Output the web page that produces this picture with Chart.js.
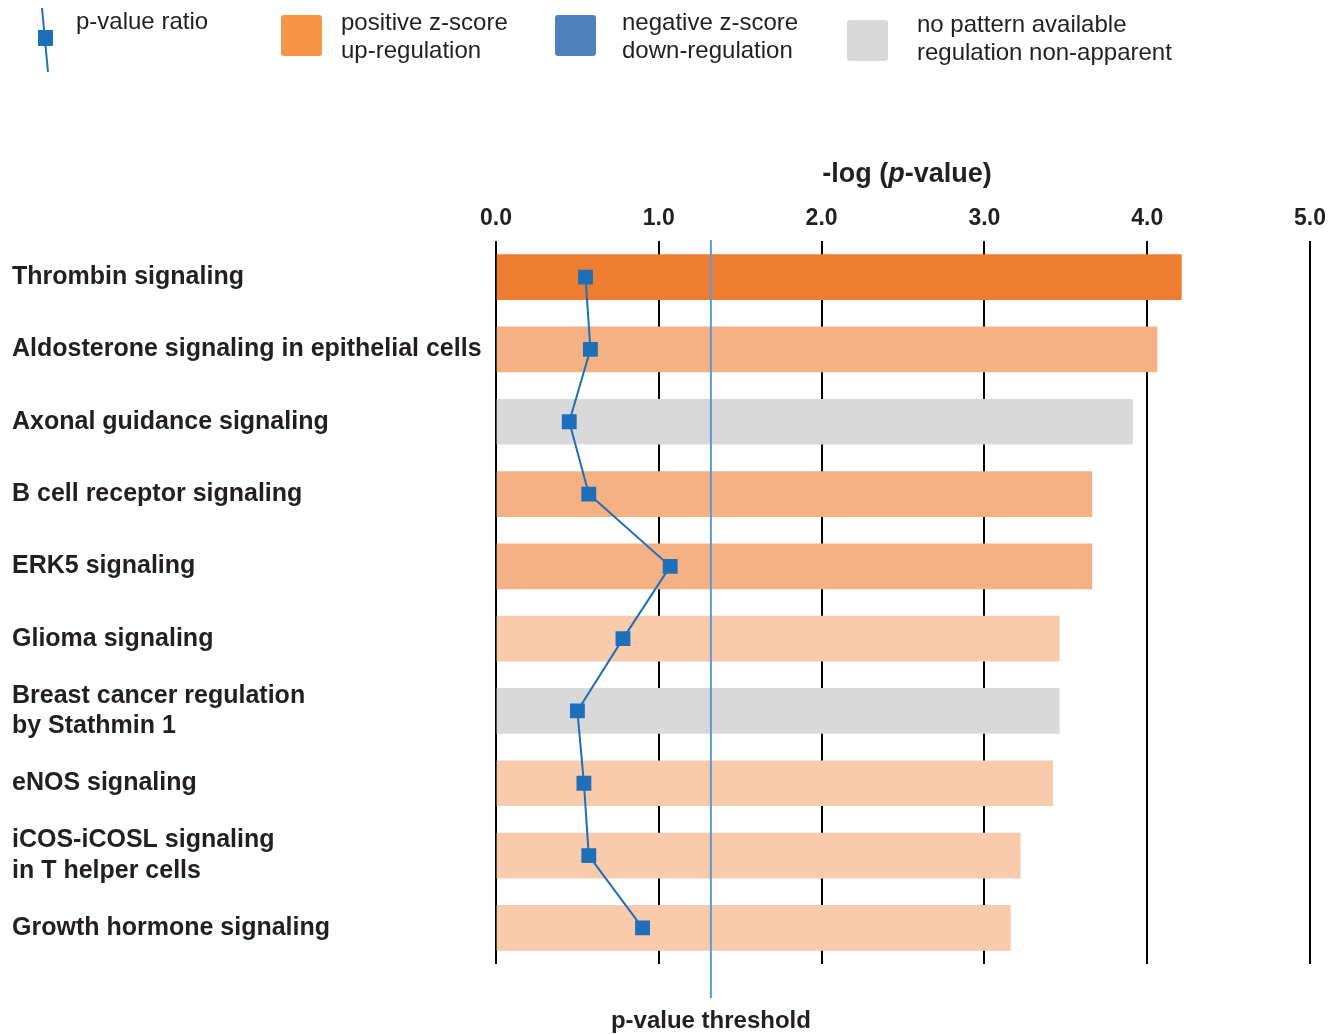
<!DOCTYPE html>
<html>
<head>
<meta charset="utf-8">
<script src="https://cdn.jsdelivr.net/npm/chart.js@4.4.0/dist/chart.umd.min.js"></script>
<style>
  body { margin: 0; background: #fff; font-family: 'Liberation Sans', Arial, sans-serif; color: #231F20; }
  #wrap { position: relative; width: 1342px; height: 1034px; }
  #chart { position: absolute; left: 0; top: 0; }
  .lg { position: absolute; font-size: 24px; line-height: 28px; white-space: nowrap; }
  .sw { position: absolute; width: 41px; height: 41px; border-radius: 3px; }
</style>
</head>
<body>
<div id="wrap">
  <canvas id="chart" width="1342" height="1034"></canvas>

  <!-- legend -->
  <svg style="position:absolute;left:0;top:0" width="70" height="80">
    <line x1="42" y1="8" x2="48" y2="72" stroke="#1E6FBA" stroke-width="2"/>
    <rect x="38" y="30" width="15" height="16" fill="#1E6FBA"/>
  </svg>
  <div class="lg" style="left:76px;top:7px">p-value ratio</div>

  <div class="sw" style="left:281px;top:15px;background:#F79646"></div>
  <div class="lg" style="left:341px;top:8px">positive z-score<br>up-regulation</div>

  <div class="sw" style="left:555px;top:15px;background:#4F81BD"></div>
  <div class="lg" style="left:622px;top:8px">negative z-score<br>down-regulation</div>

  <div class="sw" style="left:847px;top:20px;background:#D9D9D9"></div>
  <div class="lg" style="left:917px;top:10px">no pattern available<br>regulation non-apparent</div>
</div>

<script>
// Data
const pathways = [
    'Thrombin signaling',
    'Aldosterone signaling in epithelial cells',
    'Axonal guidance signaling',
    'B cell receptor signaling',
    'ERK5 signaling',
    'Glioma signaling',
    ['Breast cancer regulation', 'by Stathmin 1'],
    'eNOS signaling',
    ['iCOS-iCOSL signaling', 'in T helper cells'],
    'Growth hormone signaling'
];
const negLogP = [4.21, 4.06, 3.91, 3.66, 3.66, 3.46, 3.46, 3.42, 3.22, 3.16];
const pValueRatio = [0.55, 0.58, 0.45, 0.57, 1.07, 0.78, 0.50, 0.54, 0.57, 0.90];
// z-score class of each pathway: strong / up / weak / none
const zClass = ['strong', 'up', 'none', 'up', 'up', 'weak', 'none', 'weak', 'weak', 'weak'];
const xTicks = [0, 1, 2, 3, 4, 5];
const threshold = 1.32;

const zColors = { strong: '#ED7D31', up: '#F4B183', weak: '#F8CBAD', none: '#D9D9D9' };
const FONT = "'Liberation Sans', Arial, sans-serif";
const INK = '#231F20';

// title, threshold line and its label
const extras = {
    id: 'extras',
    afterDatasetsDraw(chart){
        const ctx = chart.ctx;
        const x = chart.scales.x;
        const area = chart.chartArea;
        const tx = x.getPixelForValue(threshold);

        ctx.save();
        ctx.strokeStyle = '#5B9BD5';
        ctx.lineWidth = 2;
        ctx.beginPath();
        ctx.moveTo(tx, area.top - 1);
        ctx.lineTo(tx, 998);
        ctx.stroke();

        ctx.fillStyle = INK;
        ctx.textBaseline = 'middle';
        ctx.textAlign = 'center';
        ctx.font = 'bold 24px ' + FONT;
        ctx.fillText('p-value threshold', tx, 1021);

        // -log (p-value) with italic p
        const parts = [
            ['-log (', 'bold 27px ' + FONT],
            ['p', 'italic bold 27px ' + FONT],
            ['-value)', 'bold 27px ' + FONT]
        ];
        let total = 0;
        parts.forEach(p => { ctx.font = p[1]; total += ctx.measureText(p[0]).width; });
        let cx = (area.left + area.right) / 2 + 4 - total / 2;
        ctx.textAlign = 'left';
        parts.forEach(p => {
            ctx.font = p[1];
            ctx.fillText(p[0], cx, 175);
            cx += ctx.measureText(p[0]).width;
        });
        ctx.restore();
    }
};

new Chart(document.getElementById('chart'), {
    type: 'bar',
    data: {
        labels: pathways,
        datasets: [
            {
                type: 'line',
                label: 'p-value ratio',
                data: pValueRatio,
                borderColor: '#1E6FBA',
                borderWidth: 2,
                backgroundColor: '#1E6FBA',
                pointStyle: 'rect',
                pointRadius: 10.5,
                pointBorderWidth: 0,
                tension: 0,
                order: 0
            },
            {
                label: '-log (p-value)',
                data: negLogP,
                backgroundColor: zClass.map(c => zColors[c]),
                barThickness: 45,
                order: 1
            }
        ]
    },
    options: {
        indexAxis: 'y',
        responsive: false,
        animation: false,
        devicePixelRatio: 1,
        layout: { padding: { left: 12, right: 32, top: 0, bottom: 70 } },
        plugins: { legend: { display: false }, tooltip: { enabled: false } },
        scales: {
            x: {
                position: 'top',
                min: 0,
                max: 5,
                afterBuildTicks: (scale) => { scale.ticks = xTicks.map(v => ({ value: v })); },
                afterFit: (scale) => { scale.height = 241; },
                grid: { color: '#000', lineWidth: 2, drawTicks: false },
                border: { display: false },
                ticks: {
                    padding: 9,
                    color: INK,
                    font: { family: FONT, size: 23, weight: 'bold' },
                    callback: v => Number(v).toFixed(1)
                }
            },
            y: {
                afterFit: (scale) => { scale.width = 484; },
                grid: { display: false },
                border: { display: false },
                ticks: {
                    crossAlign: 'far',
                    color: INK,
                    font: { family: FONT, size: 25, weight: 'bold', lineHeight: 1.22 }
                }
            }
        }
    },
    plugins: [extras]
});
</script>
</body>
</html>
